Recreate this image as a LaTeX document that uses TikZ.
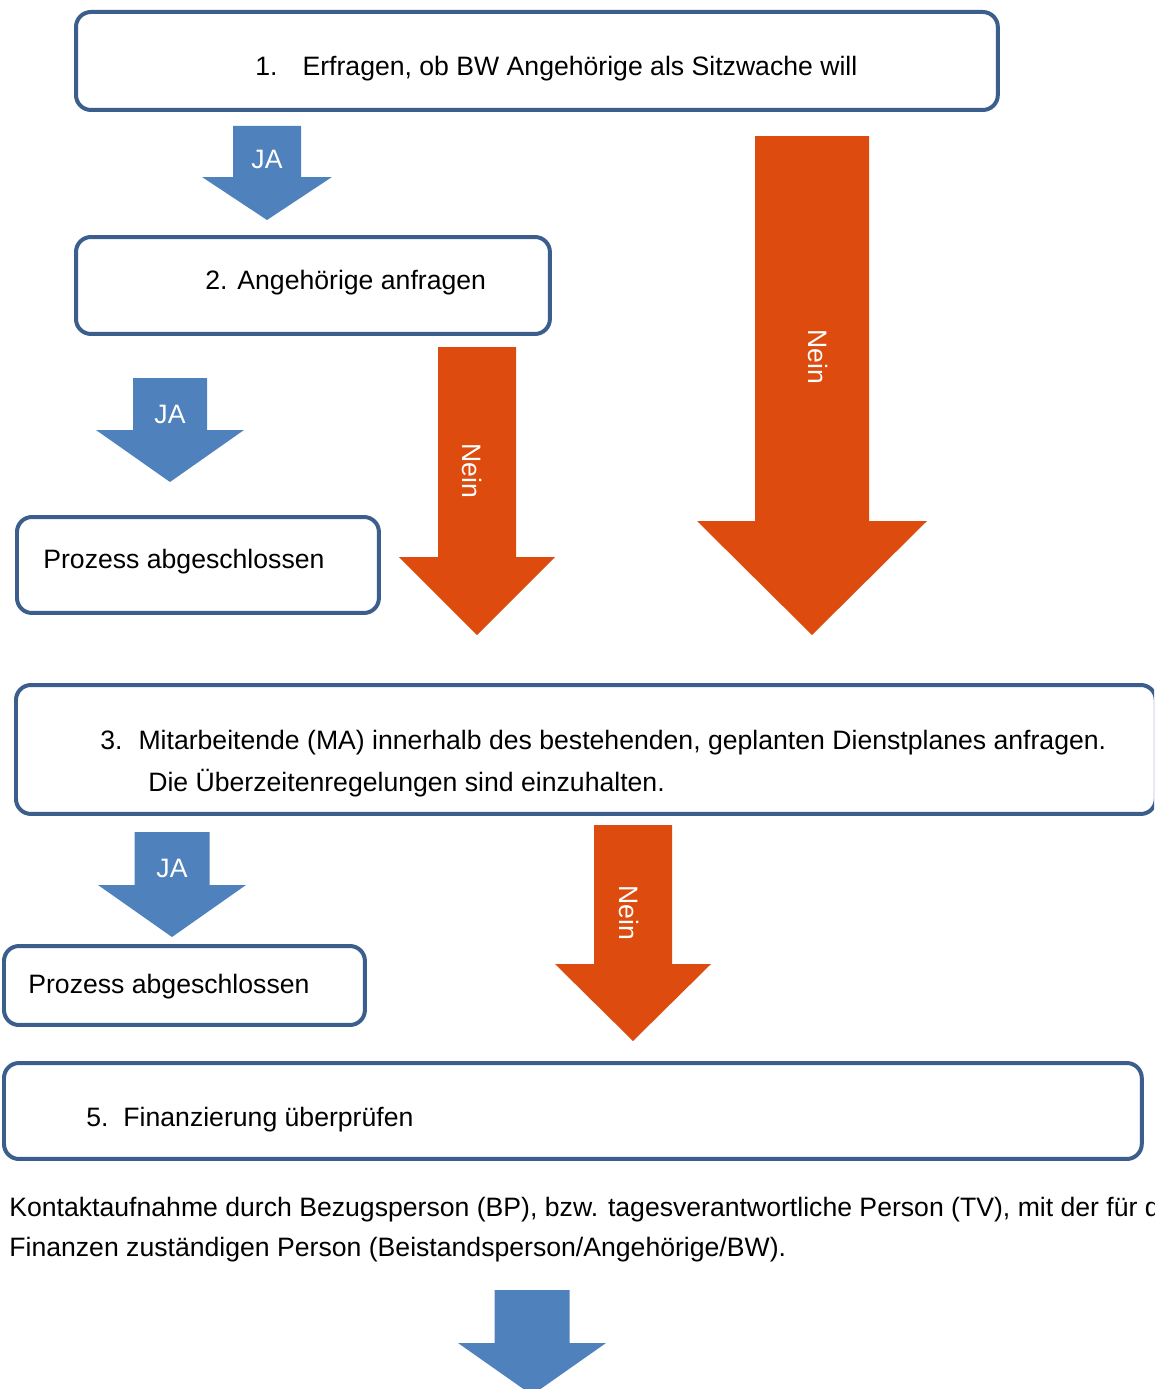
\documentclass[tikz,border=0pt]{standalone}
\usepackage{fontspec}
\setmainfont{Liberation Sans}
\usetikzlibrary{positioning}

\definecolor{boxline}{HTML}{3B5E8C}
\definecolor{jablue}{HTML}{4F81BD}
\definecolor{neinred}{HTML}{DD4B0E}

% block arrow: colour, centre x, top y, shaft half width, head base y, head half width, tip y
\newcommand{\blockarrow}[7]{%
  \fill[#1] (#2-#4,#3) -- (#2+#4,#3) -- (#2+#4,#5) -- (#2+#6,#5) -- (#2,#7)
    -- (#2-#6,#5) -- (#2-#4,#5) -- cycle;}

\begin{document}
\begin{tikzpicture}[x=0.02cm, y=-0.02cm,
    box/.style={draw=boxline, line width=0.08cm, rounded corners=0.3cm, fill=white, outer sep=0pt, anchor=north west},
    lbl/.style={font=\fontsize{15.15}{18}\selectfont, inner sep=0pt, anchor=west},
    armtext/.style={font=\fontsize{15.15}{18}\selectfont, inner sep=0pt, text=white}
  ]
  \useasboundingbox (0,0) rectangle (1154,1389);
  \clip (0,0) rectangle (1154,1389);

  % boxes
  \node[box, minimum width=18.44cm, minimum height=1.96cm] (ask) at (76,12) {};
  \node[box, minimum width=9.48cm, minimum height=1.94cm] (relatives) at (76,237) {};
  \node[box, minimum width=7.24cm, minimum height=1.92cm] (doneA) at (17,517) {};
  \node[box, minimum width=22.8cm, minimum height=2.58cm] (staff) at (16,685) {};
  \node[box, minimum width=7.22cm, minimum height=1.58cm] (doneB) at (4,946) {};
  \node[box, minimum width=22.76cm, minimum height=1.92cm] (finance) at (4,1063) {};

  % texts
  \node[lbl] (askText) at (255,69) {1.\hspace{0.94em}Erfragen, ob BW Angehörige als Sitzwache will};
  \node[lbl] (relText) at (205,283) {2. Angehörige anfragen};
  \node[lbl] (doneAText) at (43,562) {Prozess abgeschlossen};
  \node[lbl] (staffText) at (100,743) {3.\hspace{0.6em}Mitarbeitende (MA) innerhalb des bestehenden, geplanten Dienstplanes anfragen.};
  \node[lbl] (staffNote) at (148,783) {Die Überzeitenregelungen sind einzuhalten.};
  \node[lbl] (doneBText) at (28,987) {Prozess abgeschlossen};
  \node[lbl] (finText) at (86,1120) {5.\hspace{0.56em}Finanzierung überprüfen};
  \node[lbl] (contact) at (9,1210) {Kontaktaufnahme durch Bezugsperson (BP), bzw. tagesverantwortliche Person (TV), mit der für die};
  \node[lbl] (contactB) at (9,1250) {Finanzen zuständigen Person (Beistandsperson/Angehörige/BW).};

  % JA arrows
  \blockarrow{jablue}{267}{126}{34}{177}{65}{220}
  \blockarrow{jablue}{170}{378}{37}{430}{74}{482}
  \blockarrow{jablue}{172}{832}{37.5}{885}{74}{937}
  \blockarrow{jablue}{532}{1290}{37.5}{1343}{74}{1395}
  \node[armtext] (jaA) at (267,159) {JA};
  \node[armtext] (jaB) at (170,414) {JA};
  \node[armtext] (jaC) at (172,868) {JA};

  % Nein arrows
  \blockarrow{neinred}{812}{136}{57}{521}{115}{635}
  \blockarrow{neinred}{477}{347}{39}{557}{78}{635}
  \blockarrow{neinred}{633}{825}{39}{964}{78}{1041}
  \node[armtext, rotate=-90] (neinA) at (818,357) {Nein};
  \node[armtext, rotate=-90] (neinB) at (472,471) {Nein};
  \node[armtext, rotate=-90] (neinC) at (629,913) {Nein};
\end{tikzpicture}
\end{document}
